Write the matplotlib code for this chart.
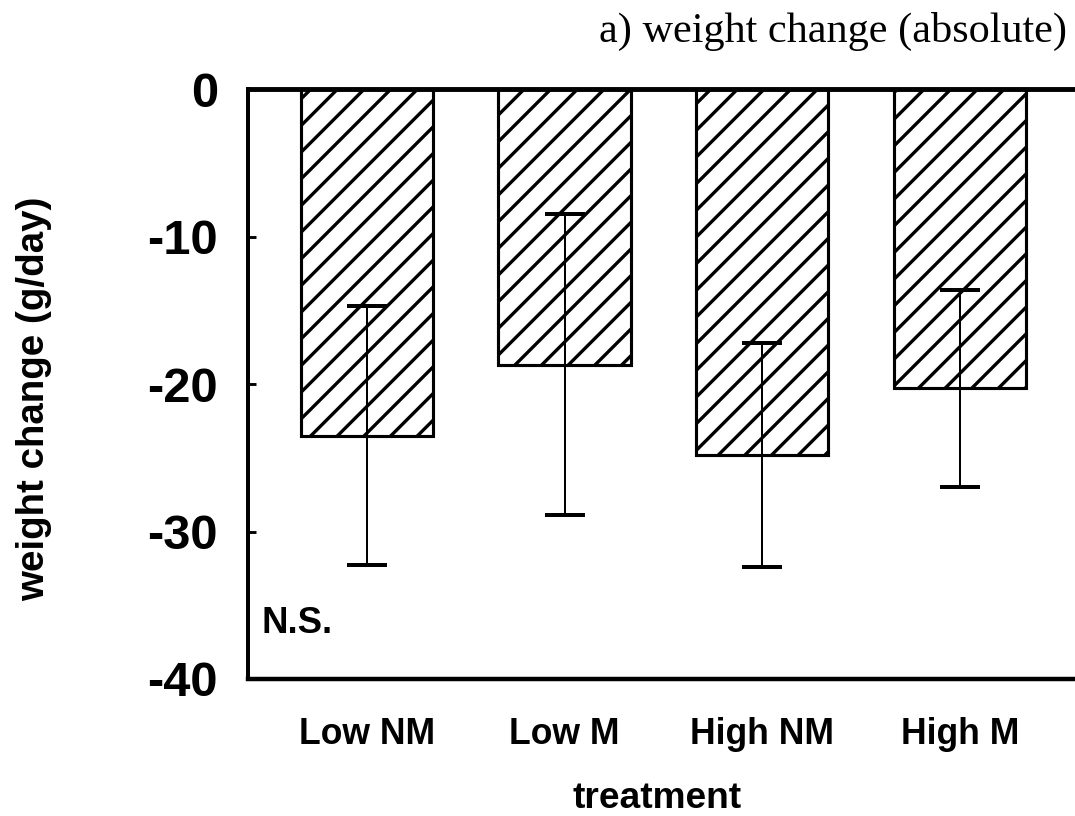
import matplotlib.pyplot as plt
import numpy as np

# mean daily weight change per treatment, with error bar half-widths
treatments = ['Low NM', 'Low M', 'High NM', 'High M']
weight_change = [-23.5, -18.7, -24.8, -20.3]
weight_change_err = [8.8, 10.2, 7.6, 6.7]
y_ticks = [0, -10, -20, -30, -40]

DPI = 160
plt.rcParams['hatch.linewidth'] = 1.5
plt.rcParams['axes.unicode_minus'] = False
plt.rcParams['font.family'] = ['Liberation Sans', 'DejaVu Sans']

fig = plt.figure(figsize=(1075 / DPI, 816 / DPI), dpi=DPI)
ax = fig.add_axes([0.2307, 0.1679, 0.773, 0.723])

x = np.arange(len(treatments))
ax.bar(x, weight_change, width=0.668, color='white', edgecolor='black',
       linewidth=1.4, hatch='//', zorder=2)
ax.errorbar(x, weight_change, yerr=weight_change_err, fmt='none', ecolor='black',
            elinewidth=0.9, capsize=9.2, capthick=1.8, zorder=3)

ax.set_xlim(-0.6, 3.6)
ax.set_ylim(-40, 0)

ax.set_yticks(y_ticks)
ax.tick_params(axis='y', direction='in', length=3.6, width=1.3, pad=13.5, labelsize=22)
for lab in ax.get_yticklabels():
    lab.set_fontweight('bold')

ax.set_xticks(x, treatments, fontweight='bold', fontsize=16)
ax.tick_params(axis='x', length=0, pad=17)

ax.set_ylabel('weight change (g/day)', fontsize=17.3, fontweight='bold')
ax.yaxis.set_label_coords(-0.236, 0.4746)
ax.set_xlabel('treatment', fontsize=16.7, fontweight='bold')
ax.xaxis.set_label_coords(0.492, -0.1725)

ax.text(-0.53, -36.9, 'N.S.', fontsize=16.5, fontweight='bold', ha='left', va='baseline')

ax.spines['right'].set_visible(False)
ax.spines['top'].set_linewidth(2.2)
ax.spines['left'].set_linewidth(1.8)
ax.spines['bottom'].set_linewidth(2.0)

fig.text(1067 / 1075, 1 - 42 / 816, 'a) weight change (absolute)', ha='right', va='baseline',
         family=['Liberation Serif', 'DejaVu Serif'], fontsize=19.0)

fig.savefig('out.png', dpi=DPI)
